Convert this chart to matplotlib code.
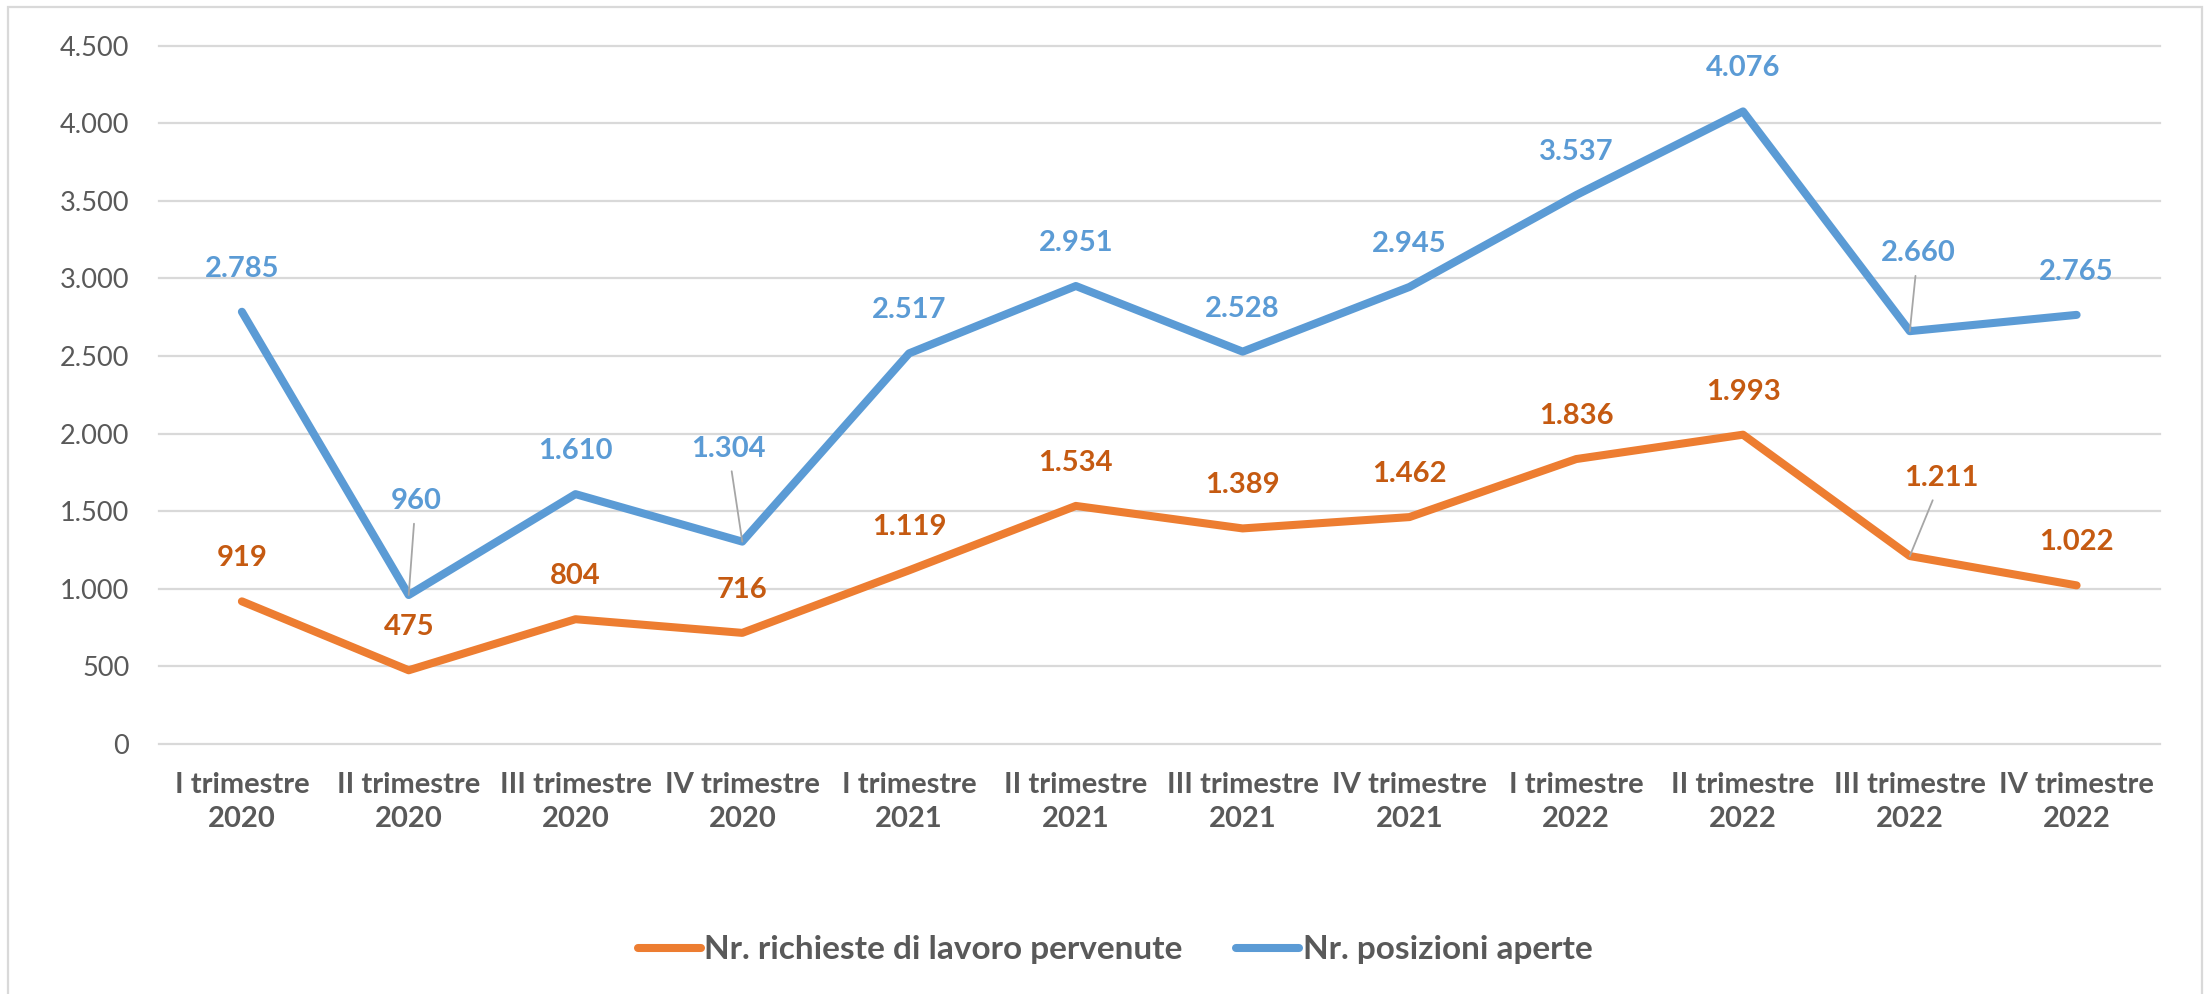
import matplotlib
matplotlib.use("Agg")
import matplotlib.pyplot as plt
from matplotlib.patches import Rectangle
from matplotlib.ticker import FuncFormatter

plt.rcParams['font.family'] = ['Lato', 'DejaVu Sans']

# dati
trimestri = ["I trimestre\n2020", "II trimestre\n2020", "III trimestre\n2020", "IV trimestre\n2020",
             "I trimestre\n2021", "II trimestre\n2021", "III trimestre\n2021", "IV trimestre\n2021",
             "I trimestre\n2022", "II trimestre\n2022", "III trimestre\n2022", "IV trimestre\n2022"]
richieste = [919, 475, 804, 716, 1119, 1534, 1389, 1462, 1836, 1993, 1211, 1022]
posizioni = [2785, 960, 1610, 1304, 2517, 2951, 2528, 2945, 3537, 4076, 2660, 2765]
nome_richieste = "Nr. richieste di lavoro pervenute"
nome_posizioni = "Nr. posizioni aperte"

ARANCIO = "#ED7D31"
ARANCIO_TXT = "#C55A11"
BLU = "#5B9BD5"
GRIGIO = "#595959"

# etichette spostate a mano (pixel rispetto al punto), le altre stanno sopra
off_default = (0, 43)
off_posizioni = {1: (7, 94), 3: (-14, 93), 10: (8, 78)}
off_richieste = {10: (32, 78)}


def fmt(v, pos=None):
    return f"{int(v):,}".replace(",", ".")


W, H = 2204, 994
fig = plt.figure(figsize=(W / 100, H / 100), dpi=100)
ax = fig.add_axes([158.5 / W, 250 / H, (2160 - 158.5) / W, (744 - 45.6) / H])

# cornice grafico
fig.patches.append(Rectangle((8 / W, -0.02), (2202 - 8) / W, 1.02 - 7 / H,
                             transform=fig.transFigure, fill=False,
                             edgecolor="#D9D9D9", lw=1.6))

x = list(range(len(trimestri)))
ax.plot(x, richieste, color=ARANCIO, lw=5.8, solid_capstyle="round",
        solid_joinstyle="round", label=nome_richieste, zorder=3)
ax.plot(x, posizioni, color=BLU, lw=5.8, solid_capstyle="round",
        solid_joinstyle="round", label=nome_posizioni, zorder=3)


def etichette(valori, colore, spostate):
    for i, v in enumerate(valori):
        dx, dy = spostate.get(i, off_default)
        kw = {}
        if i in spostate:
            kw["arrowprops"] = dict(arrowstyle="-", color="#A6A6A6", lw=1.3,
                                    shrinkA=5, shrinkB=0)
        ax.annotate(fmt(v), (i, v), xytext=(dx, dy), textcoords="offset pixels",
                    ha="center", va="center", fontsize=21, fontweight="bold",
                    color=colore, zorder=4, **kw)


etichette(posizioni, BLU, off_posizioni)
etichette(richieste, ARANCIO_TXT, off_richieste)

ax.set_xlim(-0.5, len(trimestri) - 0.5)
ax.set_ylim(0, 4500)
ax.set_yticks(range(0, 4501, 500))
ax.yaxis.set_major_formatter(FuncFormatter(fmt))
ax.set_xticks(x)
ax.set_xticklabels(trimestri, fontweight="bold", linespacing=1.4)
ax.tick_params(axis="x", length=0, pad=20, labelsize=21, labelcolor=GRIGIO)
ax.tick_params(axis="y", length=0, pad=21, labelsize=19.5, labelcolor=GRIGIO)
ax.yaxis.grid(True, color="#D9D9D9", lw=1.6)
ax.set_axisbelow(True)
for g in ax.get_ygridlines():
    g.set_clip_on(False)
for s in ax.spines.values():
    s.set_visible(False)

leg = fig.legend(loc="center", bbox_to_anchor=(1115 / W, 44 / H), ncol=2,
                 frameon=False, handlelength=1.9, handletextpad=0.1,
                 columnspacing=1.6, prop={"size": 24, "weight": "bold"})
for t in leg.get_texts():
    t.set_color(GRIGIO)

fig.savefig("out.png", dpi=100)
